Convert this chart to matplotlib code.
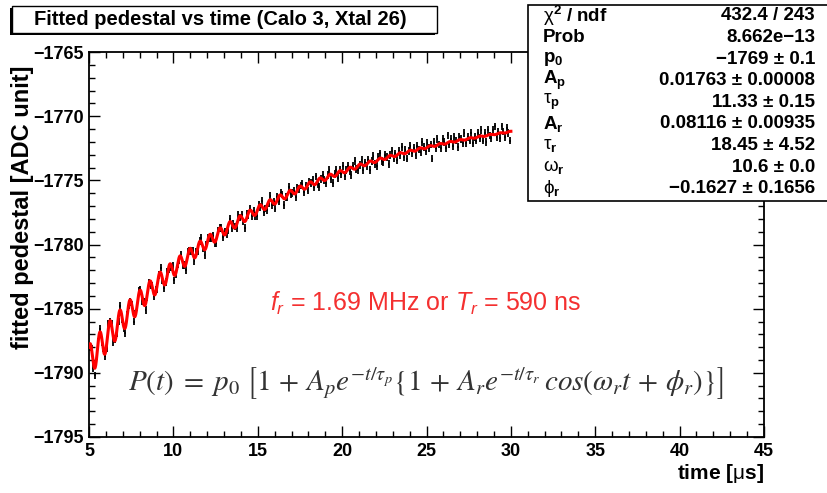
import numpy as np
import matplotlib
matplotlib.use("Agg")
import matplotlib.pyplot as plt
from matplotlib.patches import Rectangle
from matplotlib.ticker import MultipleLocator

plt.rcParams['font.family'] = ['Liberation Sans', 'DejaVu Sans']
plt.rcParams['mathtext.fontset'] = 'custom'
plt.rcParams['mathtext.rm'] = 'Liberation Sans'
plt.rcParams['mathtext.it'] = 'Liberation Sans:italic'
plt.rcParams['mathtext.bf'] = 'Liberation Sans:bold'
plt.rcParams['mathtext.sf'] = 'Liberation Sans'

# fitted pedestal per 0.1 us bin, 5-30 us
pedestal = [
    -1788.0, -1788.1, -1789.6, -1790.2, -1788.7, -1787.6,
    -1786.6, -1787.6, -1788.1, -1788.7, -1788.1, -1786.2,
    -1786.0, -1786.2, -1787.6, -1787.4, -1786.9, -1786.0,
    -1784.8, -1785.8, -1786.5, -1786.9, -1785.5, -1784.7,
    -1784.5, -1784.7, -1786.0, -1785.4, -1784.9, -1783.6,
    -1783.5, -1784.4, -1784.5, -1785.1, -1784.1, -1783.0,
    -1783.2, -1783.2, -1784.0, -1783.5, -1783.5, -1782.4,
    -1781.8, -1782.8, -1783.4, -1782.9, -1782.1, -1781.9,
    -1781.8, -1781.7, -1782.8, -1782.3, -1781.5, -1781.2,
    -1780.8, -1781.6, -1781.6, -1782.0, -1780.6, -1780.5,
    -1780.5, -1780.5, -1781.3, -1780.6, -1780.5, -1779.7,
    -1779.5, -1780.3, -1780.8, -1780.0, -1779.5, -1779.5,
    -1779.5, -1779.3, -1779.9, -1779.9, -1778.9, -1778.7,
    -1778.7, -1779.4, -1779.0, -1779.2, -1778.9, -1778.0,
    -1778.7, -1778.4, -1778.6, -1778.7, -1777.7, -1777.9,
    -1777.7, -1778.2, -1778.7, -1777.6, -1777.7, -1777.2,
    -1777.8, -1777.4, -1777.8, -1777.8, -1776.9, -1777.1,
    -1776.6, -1777.5, -1777.2, -1777.3, -1776.8, -1776.2,
    -1776.9, -1776.7, -1777.2, -1776.3, -1776.6, -1776.0,
    -1776.1, -1776.9, -1776.3, -1776.3, -1775.5, -1776.1,
    -1776.0, -1775.8, -1776.3, -1775.6, -1775.7, -1775.4,
    -1775.3, -1775.9, -1775.4, -1775.8, -1775.1, -1775.2,
    -1775.0, -1775.5, -1774.7, -1775.3, -1775.5, -1774.9, -1774.6, -1775.0,
    -1775.2, -1774.6, -1774.2, -1774.9, -1775.2, -1774.5, -1774.2, -1774.8, -1774.2, -1774.5,
    -1773.9, -1774.7, -1774.2, -1773.9, -1774.3, -1774.6, -1773.9, -1773.5, -1774.1, -1774.2,
    -1773.8, -1773.4, -1774.2, -1773.6, -1773.9, -1773.4, -1774.2, -1773.5, -1773.1, -1773.7,
    -1773.9, -1773.2, -1772.9, -1773.5, -1773.6, -1773.0, -1773.2, -1773.7, -1773.0, -1772.7,
    -1773.3, -1772.9, -1773.4, -1772.7, -1773.0, -1772.4, -1773.2, -1772.6, -1773.3, -1772.7,
    -1772.3, -1772.9, -1772.5, -1773.0, -1772.3, -1772.6, -1772.8, -1772.0, -1772.4, -1772.7,
    -1772.1, -1772.5, -1772.2, -1773.3, -1772.0, -1772.5, -1771.8, -1772.2, -1772.5, -1771.8,
    -1772.0, -1772.5, -1771.5, -1772.2, -1771.8, -1772.3, -1771.6, -1771.9, -1772.4, -1771.6,
    -1771.8, -1772.1, -1771.3, -1772.1, -1771.6, -1771.9, -1771.3, -1772.1, -1771.6, -1771.9,
    -1771.3, -1771.7, -1771.1, -1771.9, -1771.3, -1772.0, -1771.1, -1771.5, -1771.7, -1771.1,
    -1770.8, -1771.6, -1771.2, -1771.7, -1770.8, -1771.2, -1771.6, -1770.9, -1771.3, -1771.9,
]
pedestal_err = 0.3
bin_width = 0.1
time_us = np.linspace(5.05, 29.95, len(pedestal))

# fit parameters from the stats box
p0, A_p, tau_p = -1769.0, 0.01763, 11.33
A_r, tau_r, omega_r, phi_r = 0.08116, 18.45, 10.6, -0.1627
fit_range = (5.0, 30.0)

stat_labels = [r'$\mathrm{\chi}^{\mathbf{2}}$ / ndf', 'Prob', r'$\mathbf{p}_{\mathbf{0}}$',
               r'$\mathbf{A}_{\mathbf{p}}$', r'$\mathrm{\tau}_{\mathbf{p}}$', r'$\mathbf{A}_{\mathbf{r}}$',
               r'$\mathrm{\tau}_{\mathbf{r}}$', r'$\mathrm{\omega}_{\mathbf{r}}$', r'$\mathrm{\phi}_{\mathbf{r}}$']
stat_values = ['432.4 / 243', '8.662e\u221213', '\u22121769 \u00b1 0.1', '0.01763 \u00b1 0.00008',
               '11.33 \u00b1 0.15', '0.08116 \u00b1 0.00935', '18.45 \u00b1 4.52', '10.6 \u00b1 0.0',
               '\u22120.1627 \u00b1 0.1656']

fig = plt.figure(figsize=(8.28, 4.93), dpi=100)
ax = fig.add_axes([0.1075, 0.1136, 0.8152, 0.7809])

ax.errorbar(time_us, pedestal, yerr=pedestal_err, xerr=bin_width / 2, fmt='none',
            ecolor='black', elinewidth=1.3, capsize=0, zorder=2)

tt = np.linspace(fit_range[0], fit_range[1], 3000)
fit = p0 * (1 + A_p * np.exp(-tt / tau_p) * (1 + A_r * np.exp(-tt / tau_r) * np.cos(omega_r * tt + phi_r)))
ax.plot(tt, fit, color='red', lw=2.2, zorder=3)

ax.set_xlim(5, 45)
ax.set_ylim(-1795, -1765)
ax.xaxis.set_major_locator(MultipleLocator(5))
ax.xaxis.set_minor_locator(MultipleLocator(1))
ax.yaxis.set_major_locator(MultipleLocator(5))
ax.yaxis.set_minor_locator(MultipleLocator(1))
ax.tick_params(which='both', direction='in', top=True, right=True, width=1)
ax.tick_params(which='major', length=8, labelsize=13)
ax.tick_params(which='minor', length=4)
ax.tick_params(axis='x', pad=4)
for lab in ax.get_xticklabels() + ax.get_yticklabels():
    lab.set_fontweight('bold')
for s in ax.spines.values():
    s.set_linewidth(1.3)

fig.text(0.9227, 0.04, r'time [$\mathrm{\mu}$s]', ha='right', va='center', fontsize=15, fontweight='bold')
fig.text(0.027, 0.867, 'fitted pedestal [ADC unit]', rotation=90, ha='center', va='top',
         fontsize=17, fontweight='bold')

ax.text(0.499, 0.348, r'$f_r$ = 1.69 MHz or $T_r$ = 590 ns', transform=ax.transAxes,
        ha='center', va='center', color='#f43030', fontsize=18)
ax.text(0.499, 0.14,
        r'$P(t)\;=\;p_0\ \left[1\,+\,A_p e^{-t/\tau_p}\{1\,+\,A_r e^{-t/\tau_r}\,cos(\omega_r t\,+\,\phi_r)\}\right]$',
        transform=ax.transAxes, ha='center', va='center', color='#333333', fontsize=21,
        math_fontfamily='stix')

# title box with shadow
fig.add_artist(Rectangle((0.0120, 0.9290), 0.5133, 0.0548, transform=fig.transFigure,
                         facecolor='black', edgecolor='black', lw=0, zorder=4))
fig.add_artist(Rectangle((0.0145, 0.9330), 0.5133, 0.0548, transform=fig.transFigure,
                         facecolor='white', edgecolor='black', lw=1, zorder=5))
fig.text(0.266, 0.960, 'Fitted pedestal vs time (Calo 3, Xtal 26)', ha='center', va='center',
         fontsize=14.5, fontweight='bold', zorder=6)

# stats box
fig.add_artist(Rectangle((0.6377, 0.5923), 0.40, 0.3976, transform=fig.transFigure,
                         facecolor='white', edgecolor='black', lw=1.2, zorder=5))
for i, (lab, val) in enumerate(zip(stat_labels, stat_values)):
    y = 1 - (16 + 21.6 * i) / 493
    fig.text(0.6558, y, lab, ha='left', va='center', fontsize=13.5, fontweight='bold', zorder=6)
    fig.text(0.9843, y, val, ha='right', va='center', fontsize=13.5, fontweight='bold', zorder=6)

fig.savefig('out.png', dpi=100)
